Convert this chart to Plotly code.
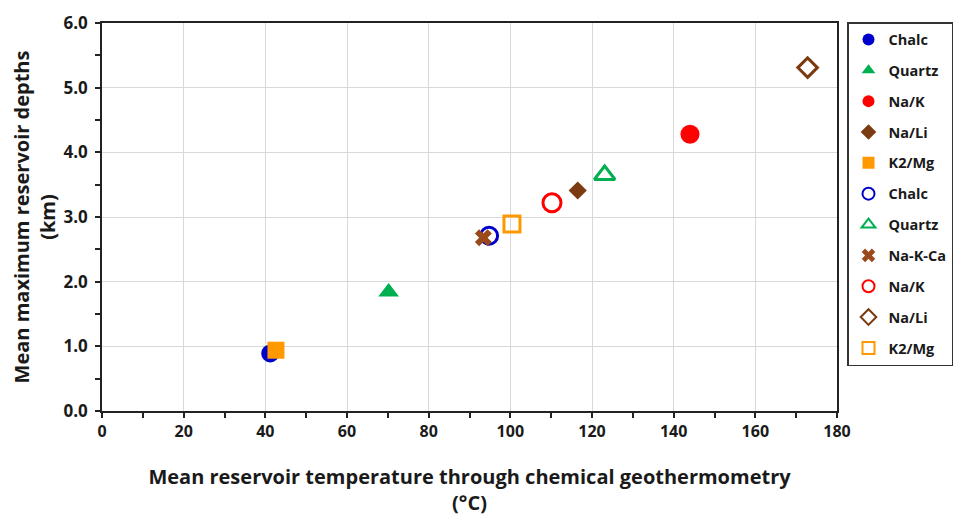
import plotly.graph_objects as go

names = ["Chalc", "Quartz", "Na/K", "Na/Li", "K2/Mg",
         "Chalc", "Quartz", "Na-K-Ca", "Na/K", "Na/Li", "K2/Mg"]
temps = [41.2, 70.2, 144.0, 116.5, 42.6,
         94.8, 123.1, 93.4, 110.2, 172.8, 100.4]
depths = [0.89, 1.84, 4.28, 3.41, 0.94,
          2.71, 3.65, 2.68, 3.22, 5.31, 2.89]
symbols = ["circle", "triangle-up", "circle", "diamond", "square",
           "circle-open", "triangle-up-open", "x", "circle-open", "diamond-open", "square-open"]
colors = ["#0000CC", "#00B050", "#FF0000", "#7B3A10", "#FF9900",
          "#0000CC", "#00B050", "#9A4A1A", "#FF0000", "#7B3A10", "#FF9900"]
sizes = [18, 18, 19, 14, 17, 17, 18, 15, 18, 15, 16]

FONT = "Open Sans"
TXT = "#1a1a1a"
W, H = 954, 516

fig = go.Figure()
for i in range(len(names)):
    is_open = symbols[i].endswith("-open")
    fig.add_trace(go.Scatter(
        x=[temps[i]], y=[depths[i]], mode="markers", name=names[i],
        legendgroup="g%d" % i,
        marker=dict(symbol=symbols[i], size=sizes[i], color=colors[i],
                    line=dict(width=3 if is_open else 0, color=colors[i])),
    ))

axis_common = dict(
    showline=True, linecolor="#222222", linewidth=1.5, mirror=True,
    showgrid=True, gridcolor="#D9D9D9", gridwidth=1.2,
    ticks="outside", ticklen=5, tickcolor="#222222", tickwidth=1.5,
    zeroline=False, automargin=False,
)

fig.update_xaxes(
    range=[0, 180], dtick=20, tick0=0,
    domain=[102 / W, 837 / W],
    tickfont=dict(family=FONT, size=16, color=TXT, weight="bold"),
    minor=dict(dtick=10, ticks="outside", ticklen=5, tickcolor="#222222", tickwidth=1.5, showgrid=False),
    title=dict(text="Mean reservoir temperature through chemical geothermometry<br>(°C)",
               font=dict(family=FONT, size=20, color=TXT, weight="bold"), standoff=30),
    **axis_common,
)
fig.update_yaxes(
    range=[0, 6], dtick=1, tick0=0, tickformat=".1f",
    domain=[1 - 411 / H, 1 - 23 / H],
    tickfont=dict(family=FONT, size=17, color=TXT, weight="bold"),
    minor=dict(dtick=0.5, ticks="outside", ticklen=5, tickcolor="#222222", tickwidth=1.5, showgrid=False),
    title=dict(text="Mean maximum reservoir depths<br>(km)",
               font=dict(family=FONT, size=20, color=TXT, weight="bold"), standoff=3),
    ticklabelstandoff=4,
    **axis_common,
)

fig.update_layout(
    width=W, height=H,
    margin=dict(l=0, r=0, t=0, b=0),
    plot_bgcolor="white", paper_bgcolor="white",
    legend=dict(
        x=847 / W, xanchor="left", y=1 - 22 / H, yanchor="top",
        bordercolor="#333333", borderwidth=1.5,
        font=dict(family=FONT, size=14.5, color=TXT, weight="bold"),
        tracegroupgap=9, itemsizing="constant",
        itemwidth=30,
    ),
)

fig.write_html("out.html")
